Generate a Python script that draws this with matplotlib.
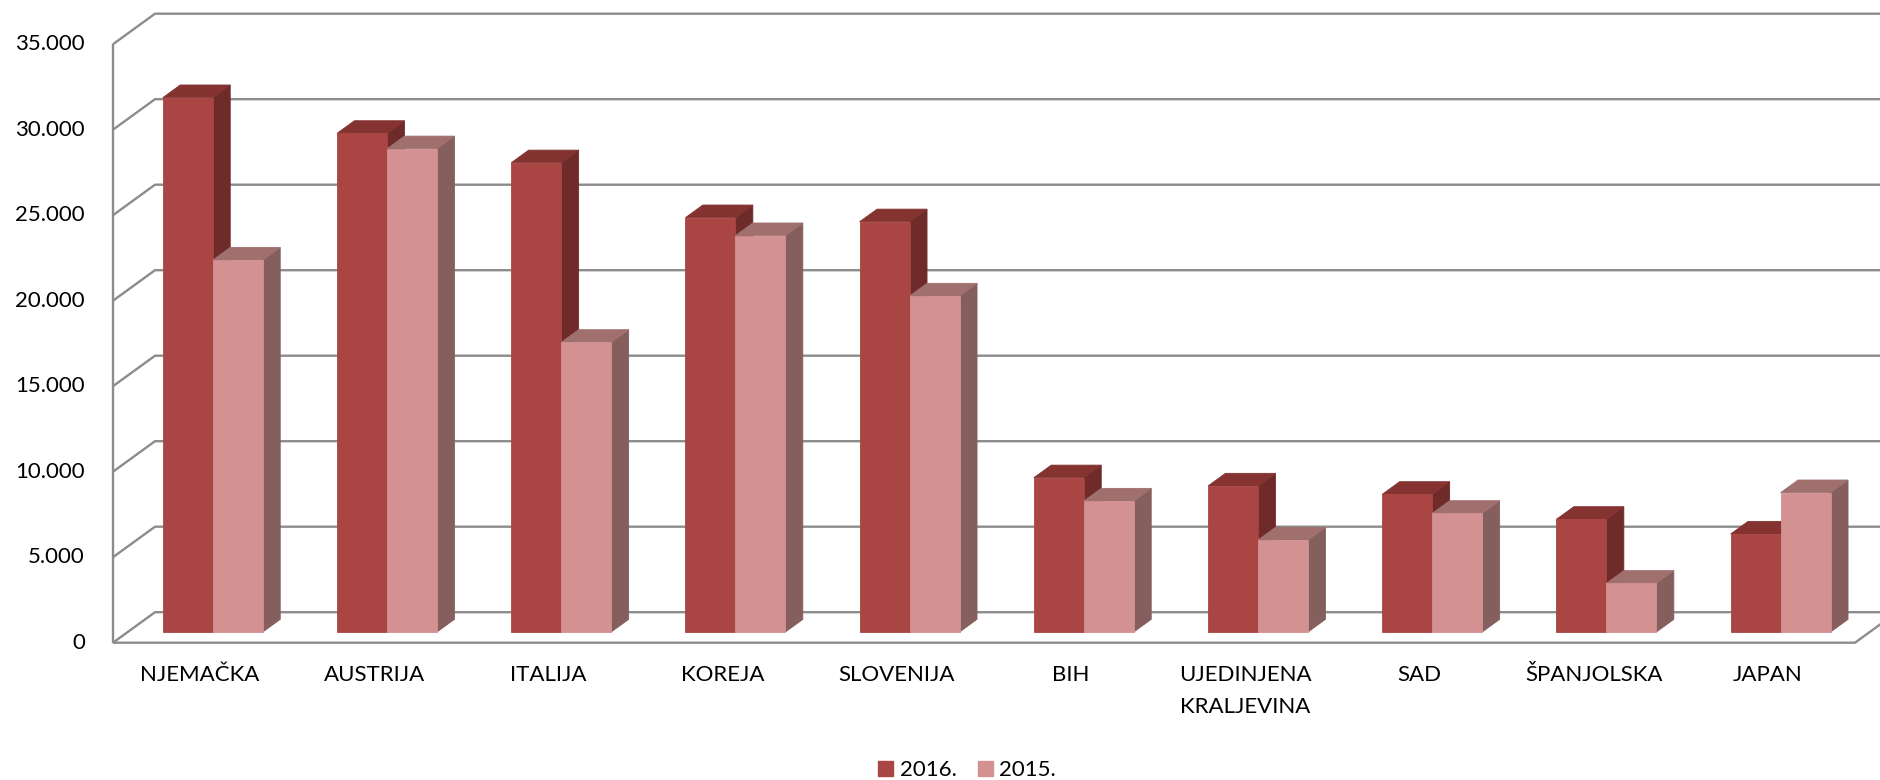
import matplotlib
matplotlib.use("Agg")
import matplotlib.pyplot as plt
from matplotlib.patches import Patch

plt.rcParams['font.family'] = ['Lato', 'DejaVu Sans']

# data
countries = ["NJEMAČKA", "AUSTRIJA", "ITALIJA", "KOREJA", "SLOVENIJA", "BIH",
             "UJEDINJENA\nKRALJEVINA", "SAD", "ŠPANJOLSKA", "JAPAN"]
y2016 = [31250, 29160, 27440, 24230, 23990, 9020, 8540, 8050, 6590, 5730]
y2015 = [21750, 28260, 16940, 23180, 19650, 7660, 5380, 6940, 2850, 8150]
yticks = [0, 5000, 10000, 15000, 20000, 25000, 30000, 35000]
series = ["2016.", "2015."]

# colours: front, top, side
col16 = ("#A94542", "#843331", "#6E2B2A")
col15 = ("#D39191", "#A0706F", "#855F5E")

W, H = 1881, 780
X0_PX = 113.0      # front left corner of floor
SLOT_PX = 174.2    # one category
Y0_PX = 642.7      # front floor line
VAL_PX = 85.5 / 5000
DX = 42.0 / SLOT_PX       # depth offset of the walls (in category units)
DY = 30.5 / VAL_PX        # depth offset (in value units)
Z0, Z1 = 0.35, 0.765      # bar depth range
BAR_W = 50.0 / SLOT_PX
GROUP_C = 0.5 - 2.0 / SLOT_PX

fig = plt.figure(figsize=(W / 100, H / 100), dpi=100)
ax = fig.add_axes([0, 0, 1, 1])
ax.set_xlim(-X0_PX / SLOT_PX, (W - X0_PX) / SLOT_PX)
ax.set_ylim((Y0_PX - H) / VAL_PX, Y0_PX / VAL_PX)
ax.axis("off")


def proj(x, v, z):
    return x + z * DX, v + z * DY


def face(pts, color):
    xy = [proj(*p) for p in pts]
    xs = [p[0] for p in xy]
    ys = [p[1] for p in xy]
    ax.fill(xs, ys, color=color, lw=0.6, ec=color, zorder=3)


def draw_bar(x0, v, cols):
    x1 = x0 + BAR_W
    face([(x1, 0, Z0), (x1, 0, Z1), (x1, v, Z1), (x1, v, Z0)], cols[2])
    face([(x0, v, Z0), (x1, v, Z0), (x1, v, Z1), (x0, v, Z1)], cols[1])
    face([(x0, 0, Z0), (x1, 0, Z0), (x1, v, Z0), (x0, v, Z0)], cols[0])


n = len(countries)
grid = dict(color="#8C8C8C", lw=1.7, zorder=1, solid_capstyle="butt")

# walls and floor
for t in yticks:
    a = proj(0, t, 0)
    b = proj(0, t, 1)
    c = proj(n + 1, t, 1)
    ax.plot([a[0], b[0], c[0]], [a[1], b[1], c[1]], **grid)
ax.plot([0, 0], [0, yticks[-1]], **grid)
f1 = proj(n, 0, 0)
f2 = proj(n, 0, 1)
ax.plot([0, f1[0], f2[0]], [0, f1[1], f2[1]], **grid)

# bars
for i in range(n):
    left = i + GROUP_C - BAR_W
    draw_bar(left, y2016[i], col16)
    draw_bar(left + BAR_W, y2015[i], col15)

# value labels
for t in yticks:
    lab = f"{t:,}".replace(",", ".")
    ax.text((85 - X0_PX) / SLOT_PX, t, lab, ha="right", va="center",
            fontsize=16, color="black")

# category labels
for i, c in enumerate(countries):
    ax.text(i + 0.5, (Y0_PX - 665) / VAL_PX, c, ha="center", va="top",
            fontsize=16, color="black", linespacing=1.75)

handles = [Patch(color=col16[0]), Patch(color=col15[0])]
fig.legend(handles, series, loc="center", bbox_to_anchor=(967 / W, 1 - 770 / H),
           ncol=2, frameon=False, fontsize=16, handlelength=0.68,
           handleheight=0.68, handletextpad=0.3, columnspacing=0.95,
           borderpad=0, borderaxespad=0)

fig.savefig("out.png", dpi=100)
